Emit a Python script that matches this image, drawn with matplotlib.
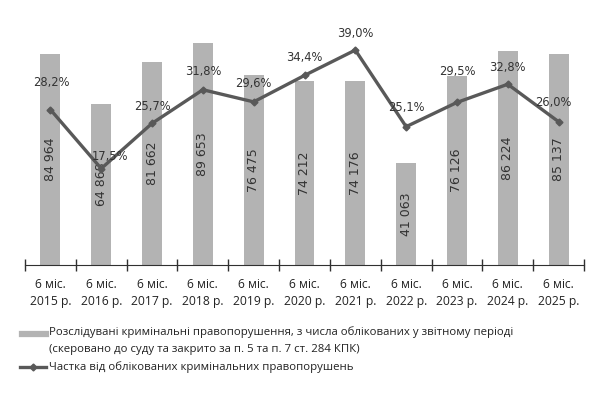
import matplotlib
matplotlib.use("Agg")
import matplotlib.pyplot as plt
from matplotlib.lines import Line2D
import numpy as np

years = ["2015", "2016", "2017", "2018", "2019", "2020", "2021", "2022", "2023", "2024", "2025"]
investigated = [84964, 64868, 81662, 89653, 76475, 74212, 74176, 41063, 76126, 86224, 85137]
share_pct = [28.2, 17.5, 25.7, 31.8, 29.6, 34.4, 39.0, 25.1, 29.5, 32.8, 26.0]

bar_label = ("Розслідувані кримінальні правопорушення, з числа облікованих у звітному періоді\n"
             "(скеровано до суду та закрито за п. 5 та п. 7 ст. 284 КПК)")
line_label = "Частка від облікованих кримінальних правопорушень"

# label nudges in pixels (dx, dy) for the percent labels
pct_offsets = [(1, 27), (9, 12), (0, 17), (0, 18), (0, 18), (0, 18), (0, 17), (0, 19), (0, 31), (0, 17), (-5, 19)]

bar_color = "#b3b3b3"
line_color = "#595959"
text_color = "#222222"
text_font = ["Open Sans", "DejaVu Sans"]


def fmt_thousands(v):
    return f"{v:,}".replace(",", " ")


fig = plt.figure(figsize=(6.09, 3.94), dpi=100)
W, H = 609, 394
ax = fig.add_axes([25 / W, (H - 265) / H, (584 - 25) / W, (265 - 17) / H])
ax2 = ax.twinx()

x = np.arange(len(years))
ax.bar(x, investigated, width=0.39, color=bar_color, zorder=1)
ax.set_ylim(0, 100000)
ax.set_xlim(-0.5, len(years) - 0.5)

for xi, v in zip(x, investigated):
    ax.text(xi, v / 2, fmt_thousands(v), rotation=90, ha="center", va="center",
            fontsize=9, color="#333333", family="DejaVu Sans")

ax2.plot(x, share_pct, color=line_color, lw=2.4, marker="D", ms=3.5, zorder=3)
ax2.set_ylim(0, 45)
for xi, p, (dx, dy) in zip(x, share_pct, pct_offsets):
    ax2.annotate(f"{p:.1f}%".replace(".", ","), (xi, p), xytext=(dx, dy),
                 textcoords="offset pixels", ha="center", va="center",
                 fontsize=8.3, color="#333333", family="DejaVu Sans")

for a in (ax, ax2):
    for s in ("top", "right", "left"):
        a.spines[s].set_visible(False)
    a.set_yticks([])
ax2.spines["bottom"].set_visible(False)
ax.spines["bottom"].set_color("#303030")

ax.set_xticks(x)
ax.set_xticklabels([f"6 міс.\n{y} р." for y in years], fontsize=8.7,
                   family=text_font, color=text_color, linespacing=1.4)
ax.tick_params(axis="x", which="major", length=0, pad=9)
ax.set_xticks(np.arange(-0.5, len(years)), minor=True)
ax.tick_params(axis="x", which="minor", length=8, direction="inout", color="#303030", width=1)

# legend drawn below the plot
fig.add_artist(Line2D([22 / W, 46 / W], [1 - 334 / H] * 2, color=bar_color, lw=4.5,
                      transform=fig.transFigure))
fig.text(49 / W, 1 - 326 / H, bar_label, fontsize=8.2, family=text_font,
         color=text_color, va="top", linespacing=1.75, transform=fig.transFigure)
fig.add_artist(Line2D([20 / W, 46 / W], [1 - 367 / H] * 2, color=line_color, lw=2.4,
                      transform=fig.transFigure))
fig.add_artist(Line2D([33 / W], [1 - 367 / H], color=line_color, marker="D", ms=3.5,
                      transform=fig.transFigure))
fig.text(49 / W, 1 - 367 / H, line_label, fontsize=8.2, family=text_font,
         color=text_color, va="center", transform=fig.transFigure)

fig.savefig("out.png", dpi=100)
